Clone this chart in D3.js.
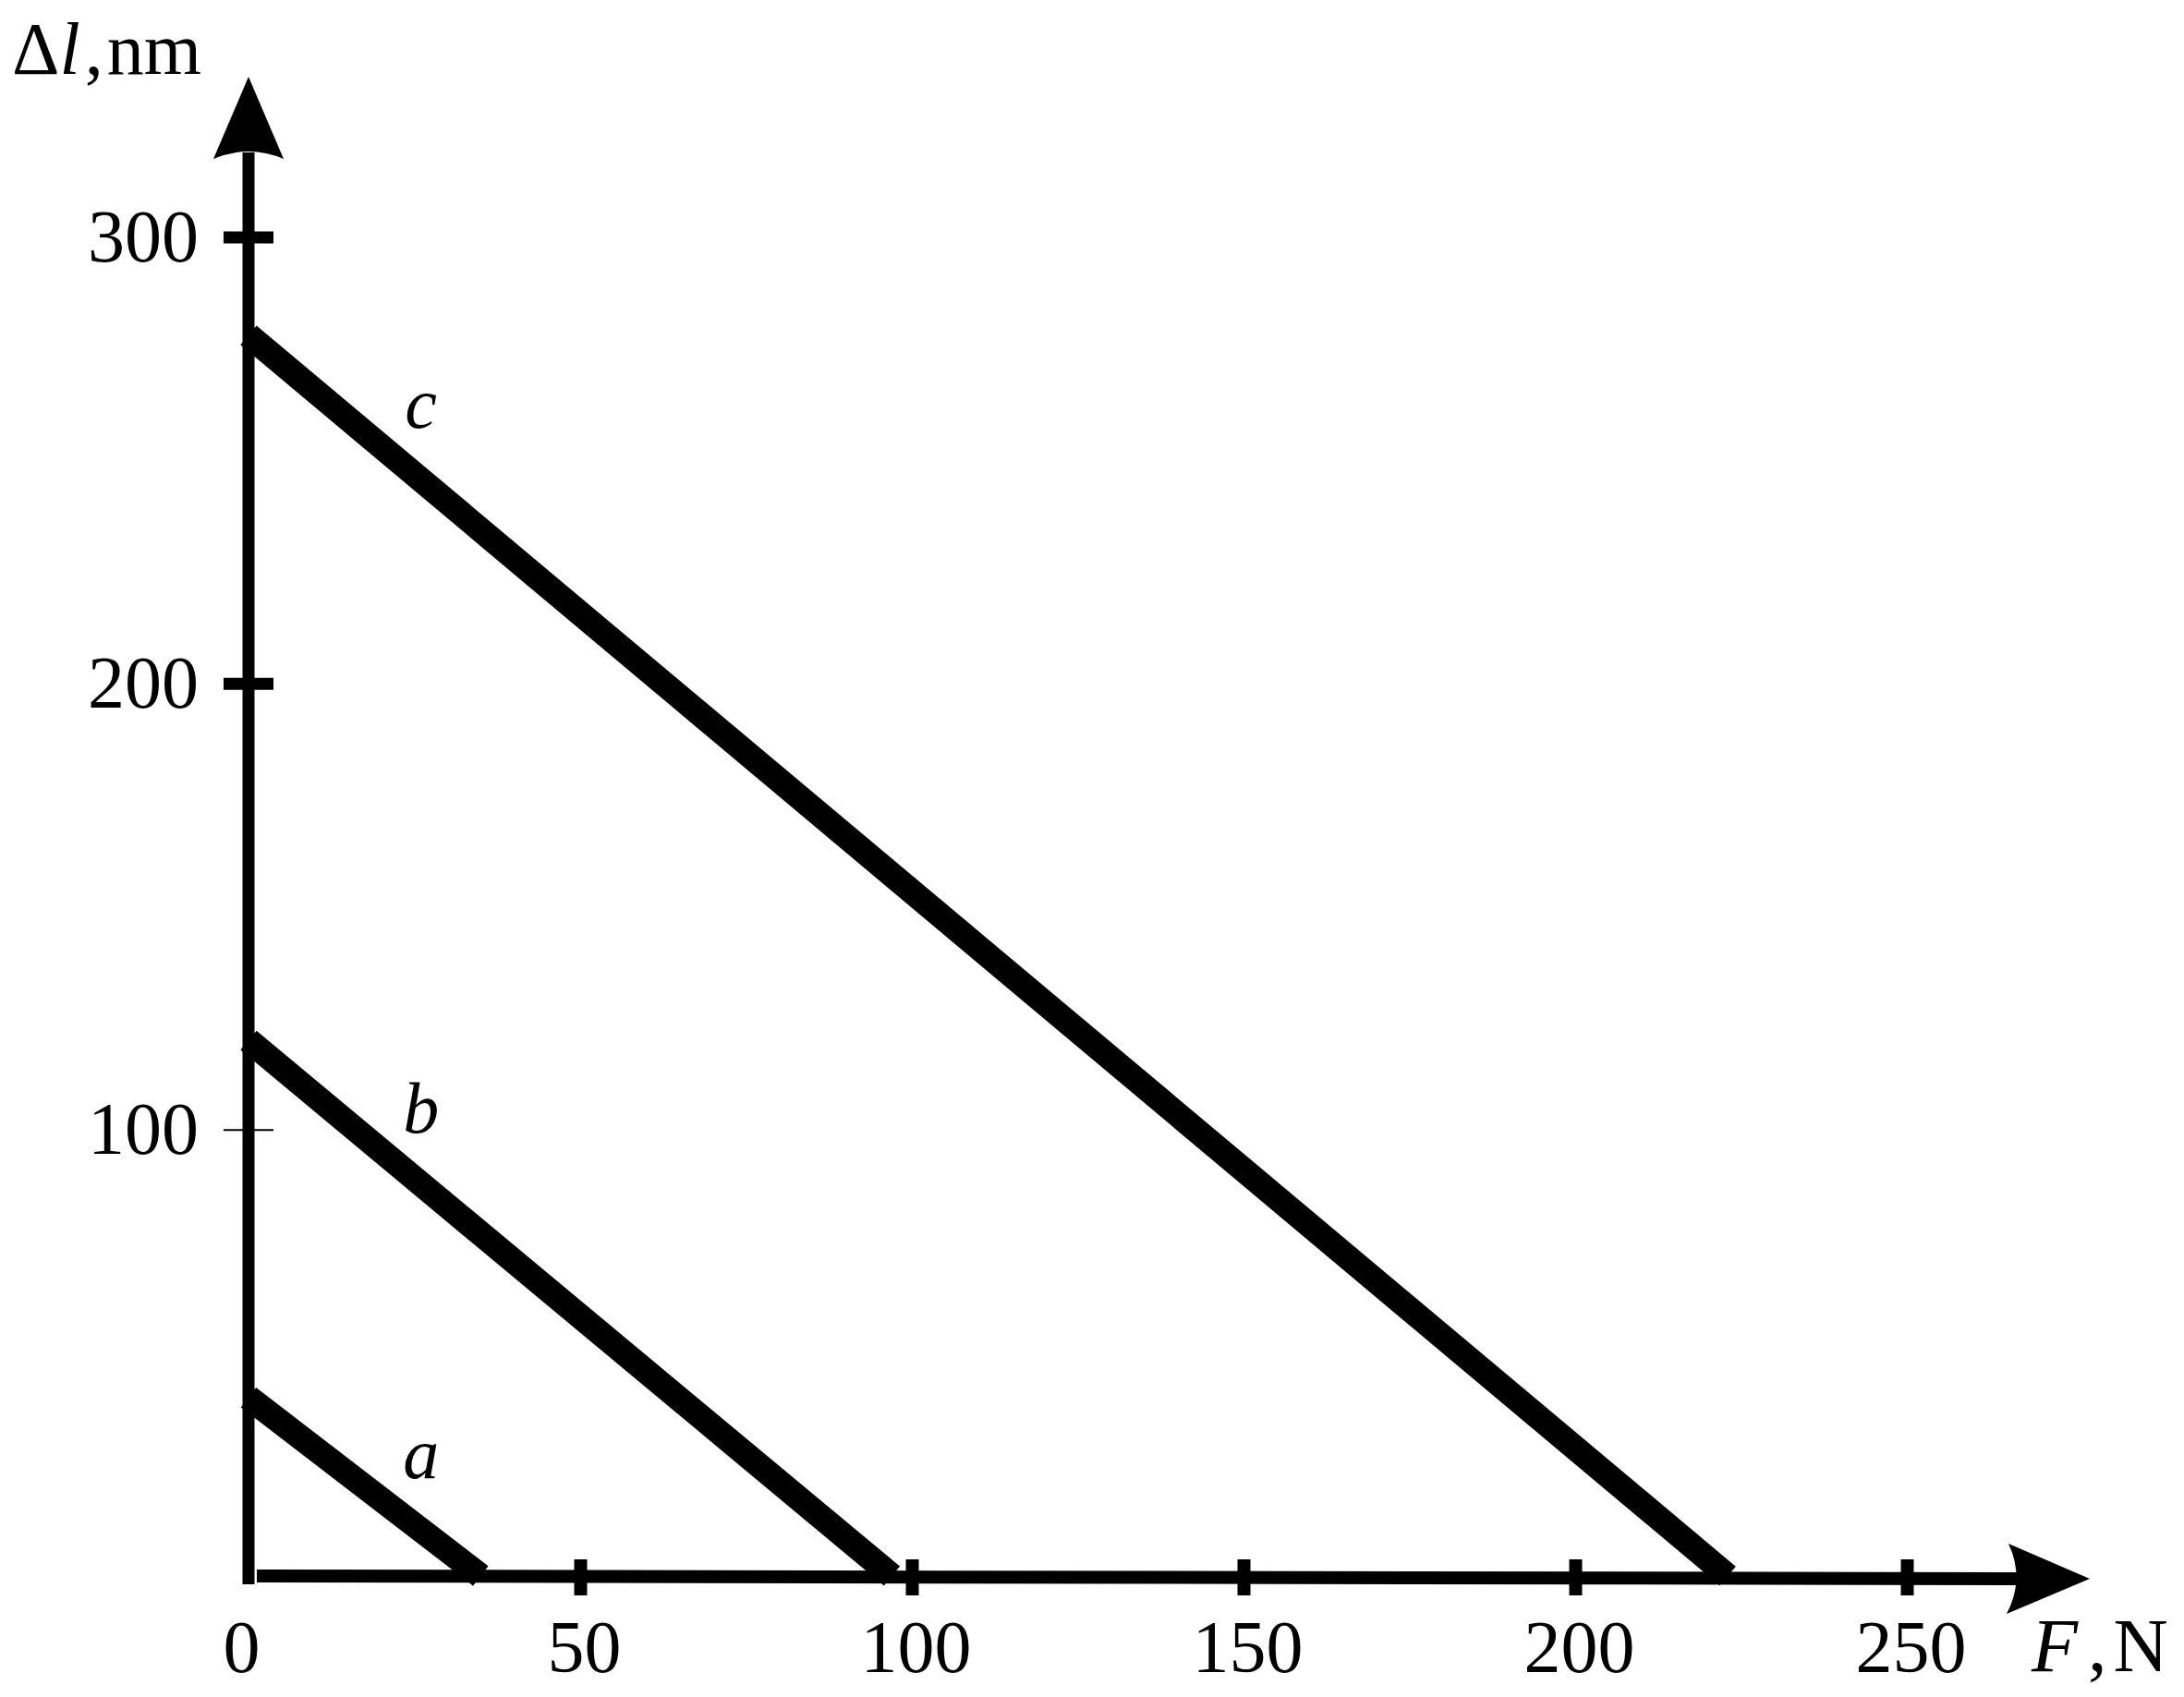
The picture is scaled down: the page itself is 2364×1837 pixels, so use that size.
<!DOCTYPE html>
<html>
<head>
<meta charset="utf-8">
<script src="https://cdn.jsdelivr.net/npm/d3@7"></script>
<style>
  html, body { margin: 0; padding: 0; background: #fff; }
  svg { display: block; }
  text { font-family: "Liberation Serif", "Times New Roman", serif; fill: #000; }
</style>
</head>
<body>
<div id="chart"></div>
<script>
// ---- data ----
const seriesNames = ["a", "b", "c"];
const seriesF  = [[0, 35], [0, 97], [0, 223]];     // F, N
const seriesDl = [[40, 0], [120, 0], [278, 0]];    // Δl, nm
const xTicks = [0, 50, 100, 150, 200, 250];
const yTicks = [100, 200, 300];
const xTickLabels = ["0", "50", "100", "150", "200", "250"];
const yTickLabels = ["100", "200", "300"];

// ---- layout ----
const W = 2364, H = 1837;
const x0 = 269, y0 = 1706;
const fontSize = 80;

const svg = d3.select("#chart").append("svg")
  .attr("width", W).attr("height", H);

const x = d3.scaleLinear().domain([0, 250]).range([x0, x0 + 1795]);
const y = d3.scaleLinear().domain([0, 300]).range([y0, 256.5]);

// ---- axis lines ----
svg.append("line")
  .attr("x1", x0).attr("x2", x0)
  .attr("y1", y0 + 9).attr("y2", 165)
  .attr("stroke", "#000").attr("stroke-width", 13);
svg.append("line")
  .attr("x1", x0 + 9).attr("x2", 2185)
  .attr("y1", y0).attr("y2", y0 + 3)
  .attr("stroke", "#000").attr("stroke-width", 14);

// arrowheads (notched)
svg.append("path")
  .attr("d", `M${x0},83 L${x0 + 38},172 Q${x0},156 ${x0 - 38},172 Z`)
  .attr("fill", "#000");
svg.append("path")
  .attr("d", `M2262,${y0 + 3} L2172,${y0 + 41} Q2192,${y0 + 3} 2174,${y0 - 35} Z`)
  .attr("fill", "#000");

// ---- y axis ticks and labels ----
const yAxis = d3.axisLeft(y).tickValues(yTicks)
  .tickFormat((d, i) => yTickLabels[i]).tickSize(0).tickPadding(0);
const gy = svg.append("g").attr("transform", `translate(${x0},0)`).call(yAxis);
gy.select(".domain").remove();
gy.selectAll(".tick line")
  .attr("x1", -27).attr("x2", 27)
  .attr("stroke", "#000")
  .attr("stroke-width", d => d === 100 ? 2 : 13);
gy.selectAll(".tick text")
  .attr("x", -54)
  .attr("text-anchor", "end")
  .style("font-family", '"Liberation Serif", serif')
  .style("font-size", fontSize + "px");

// ---- x axis ticks and labels ----
const xAxis = d3.axisBottom(x).tickValues(xTicks)
  .tickFormat((d, i) => xTickLabels[i]).tickSize(0).tickPadding(0);
const gx = svg.append("g").attr("transform", `translate(0,${y0})`).call(xAxis);
gx.select(".domain").remove();
gx.selectAll(".tick line")
  .attr("y1", -18).attr("y2", 21)
  .attr("stroke", "#000")
  .attr("stroke-width", d => d === 0 ? 0 : 14);
gx.selectAll(".tick text")
  .attr("y", 47)
  .attr("dx", d => d === 0 ? -8 : 4)
  .style("font-family", '"Liberation Serif", serif')
  .style("font-size", fontSize + "px");

// ---- series lines ----
const line = d3.line().x(d => x(d[0])).y(d => y(d[1]));
const seriesData = seriesNames.map((name, i) => ({
  name,
  pts: seriesF[i].map((f, j) => [f, seriesDl[i][j]])
}));

svg.append("g").selectAll("path")
  .data(seriesData).join("path")
  .attr("d", d => line(d.pts))
  .attr("fill", "none")
  .attr("stroke", "#000")
  .attr("stroke-width", 27)
  .attr("stroke-linecap", "butt");

// curve labels
const labelF = 26;
svg.append("g").selectAll("text")
  .data(seriesData).join("text")
  .attr("x", x(labelF))
  .attr("y", d => {
    const [p0, p1] = d.pts;
    const v = p0[1] + (p1[1] - p0[1]) * (labelF - p0[0]) / (p1[0] - p0[0]);
    return y(v) - 56;
  })
  .attr("text-anchor", "middle")
  .style("font-style", "italic")
  .style("font-size", "78px")
  .text(d => d.name);

// ---- axis titles ----
const yt = svg.append("text")
  .attr("x", 13).attr("y", 80)
  .style("font-size", "80px");
yt.append("tspan").text("Δ");
yt.append("tspan").style("font-style", "italic").text("l");
yt.append("tspan").attr("dx", 5).text(",");
yt.append("tspan").attr("dx", 4).text("nm");

const xt = svg.append("text")
  .attr("x", 2199).attr("y", 1809)
  .style("font-size", "82px");
xt.append("tspan").style("font-style", "italic").text("F");
xt.append("tspan").attr("dx", 11).text(",");
xt.append("tspan").attr("dx", 7).text("N");
</script>
</body>
</html>
